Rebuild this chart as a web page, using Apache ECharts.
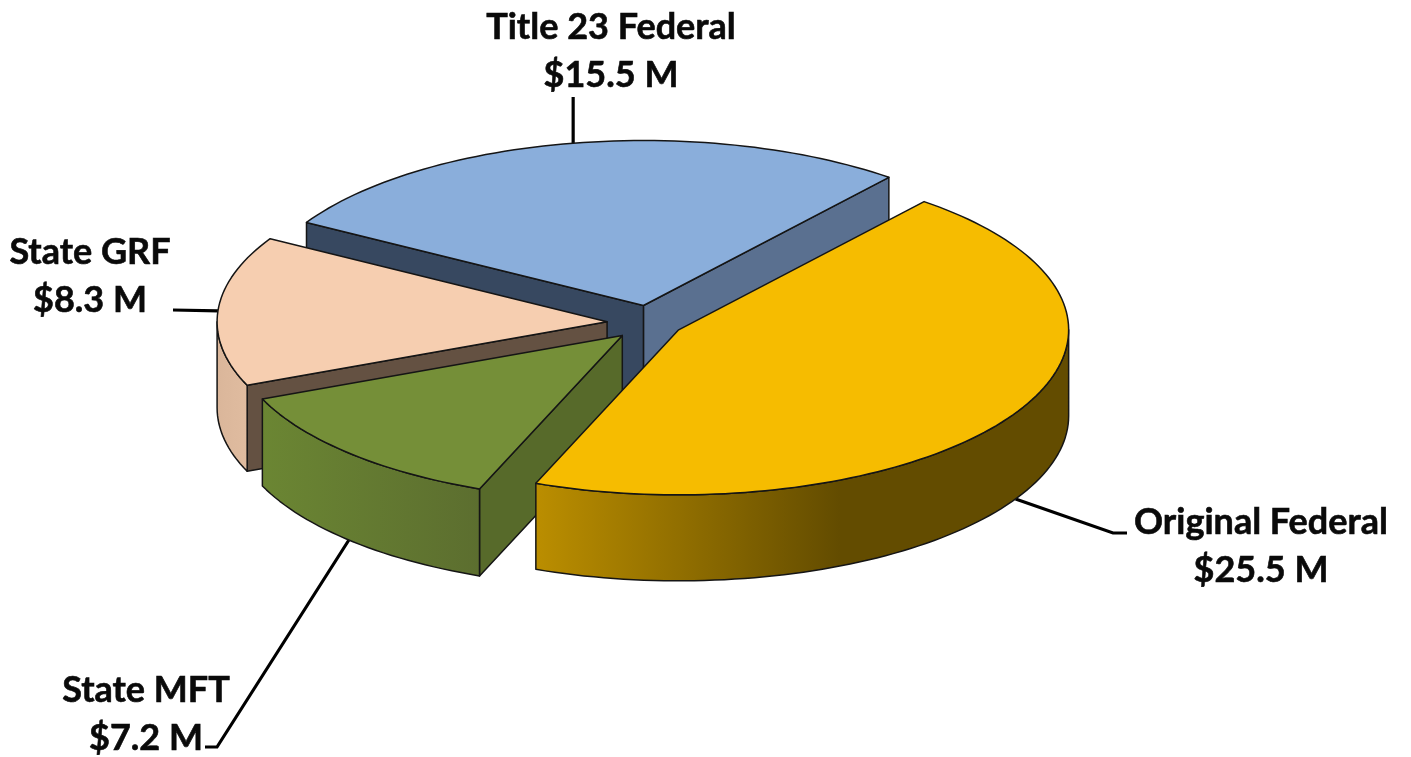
<!DOCTYPE html>
<html>
<head>
<meta charset="utf-8">
<style>html,body{margin:0;padding:0;background:#fff}#c{width:1411px;height:757px}</style>
<script src="https://cdn.jsdelivr.net/npm/echarts@6/dist/echarts.min.js"></script>
</head>
<body>
<div id="c"></div>
<script>
// Data, in counter-clockwise order from the first slice edge
const categories = ['Title 23 Federal', 'State GRF', 'State MFT', 'Original Federal'];
const amounts = [15.5, 8.3, 7.2, 25.5];

// Layout and style (3D projection of the pie disc)
const disc = { cx: 651, cy: 323, rx: 390, ry: 165, depth: 86, startAngle: 51 };
const explode = [42, 44, 41, 32];
const cutDepth = [92, 86, 87, 86];
const topColors = ['#8aaedb', '#f6ceb0', '#758f38', '#f6bc00'];
const startWall = ['#5a7090', null, null, null];
const endWall = ['#374860', '#645142', '#576a2a', null];
const rimFill = [
  '#5a7090',
  { type: 'linear', x: 0, y: 0, x2: 1, y2: 0, colorStops: [{ offset: 0, color: '#dab69a' }, { offset: 1, color: '#e0bca0' }] },
  { type: 'linear', x: 0, y: 0, x2: 1, y2: 0, colorStops: [{ offset: 0, color: '#6b8633' }, { offset: 1, color: '#5c6e2f' }] },
  { type: 'linear', x: 0, y: 0, x2: 1, y2: 0, colorStops: [{ offset: 0, color: '#bb8e00' }, { offset: 0.57, color: '#634c00' }, { offset: 1, color: '#634c00' }] }
];
const labelCenter = [[611, 51], [90, 276], [146, 714], [1261, 546]];
const leaderRest = [[[null, 97]], [[173, 310]], [[217, 747], [205, 747]], [[1113, 533], [1127, 533]]];

const total = amounts.reduce((a, b) => a + b, 0);
const rad = d => d * Math.PI / 180;

function sliceAngles(idx) {
  let a = disc.startAngle;
  for (let i = 0; i < idx; i++) a += amounts[i] / total * 360;
  return [a, a + amounts[idx] / total * 360];
}
function apexOf(idx) {
  const [a0, a1] = sliceAngles(idx), m = rad((a0 + a1) / 2);
  return [disc.cx + explode[idx] * Math.cos(m), disc.cy - explode[idx] * disc.ry / disc.rx * Math.sin(m)];
}
function rim(apex, a, dz) {
  return [apex[0] + disc.rx * Math.cos(rad(a)), apex[1] - disc.ry * Math.sin(rad(a)) + (dz || 0)];
}
function arc(apex, a0, a1, dz) {
  const pts = [], n = Math.max(2, Math.ceil(Math.abs(a1 - a0) / 1.5));
  for (let i = 0; i <= n; i++) pts.push(rim(apex, a0 + (a1 - a0) * i / n, dz));
  return pts;
}
const edge = { stroke: '#151515', lineWidth: 1.5, lineJoin: 'round' };

function renderItem(params, api) {
  const i = params.dataIndex;
  const value = api.value(0);
  const [a0, a1] = sliceAngles(i);
  const apex = apexOf(i);
  const children = [];
  const poly = (points, fill) => children.push({
    type: 'polygon', shape: { points }, style: Object.assign({ fill }, edge)
  });
  // leader line, starting on the rim at the slice's mid angle
  const mid = (a0 + a1) / 2;
  const front = Math.sin(rad(mid)) < 0;
  const start = rim(apex, mid, front ? disc.depth : 0);
  const leader = [start].concat(leaderRest[i].map(p => [p[0] === null ? start[0] : p[0], p[1]]));
  children.push({
    type: 'polyline', shape: { points: leader },
    style: { stroke: '#000', lineWidth: 3.2, fill: null }
  });
  // cut walls
  const wall = (a, color) => {
    const p = rim(apex, a), d = cutDepth[i];
    poly([apex, p, [p[0], p[1] + d], [apex[0], apex[1] + d]], color);
  };
  if (startWall[i]) wall(a0, startWall[i]);
  if (endWall[i]) wall(a1, endWall[i]);
  // outer wall: front-facing part of the rim only
  const f0 = Math.max(a0, 180), f1 = Math.min(a1, 360);
  if (f1 > f0) {
    poly(arc(apex, f0, f1, 0).concat(arc(apex, f1, f0, cutDepth[i])), rimFill[i]);
  }
  // top face
  poly([apex].concat(arc(apex, a0, a1, 0)), topColors[i]);
  // label
  children.push({
    type: 'text',
    style: {
      text: categories[i] + '\n$' + value.toFixed(1) + ' M',
      x: labelCenter[i][0], y: labelCenter[i][1],
      align: 'center', verticalAlign: 'middle',
      fontFamily: 'Lato', fontWeight: 'bold', fontSize: 36, lineHeight: 48,
      fill: '#0a0a0a', stroke: '#0a0a0a', lineWidth: 0.6
    }
  });
  return { type: 'group', children };
}

const chart = echarts.init(document.getElementById('c'));
chart.setOption({
  animation: false,
  backgroundColor: '#fff',
  series: [{
    type: 'custom',
    coordinateSystem: 'none',
    silent: true,
    renderItem,
    data: amounts.map((v, i) => ({ name: categories[i], value: [v] }))
  }]
});
</script>
</body>
</html>
